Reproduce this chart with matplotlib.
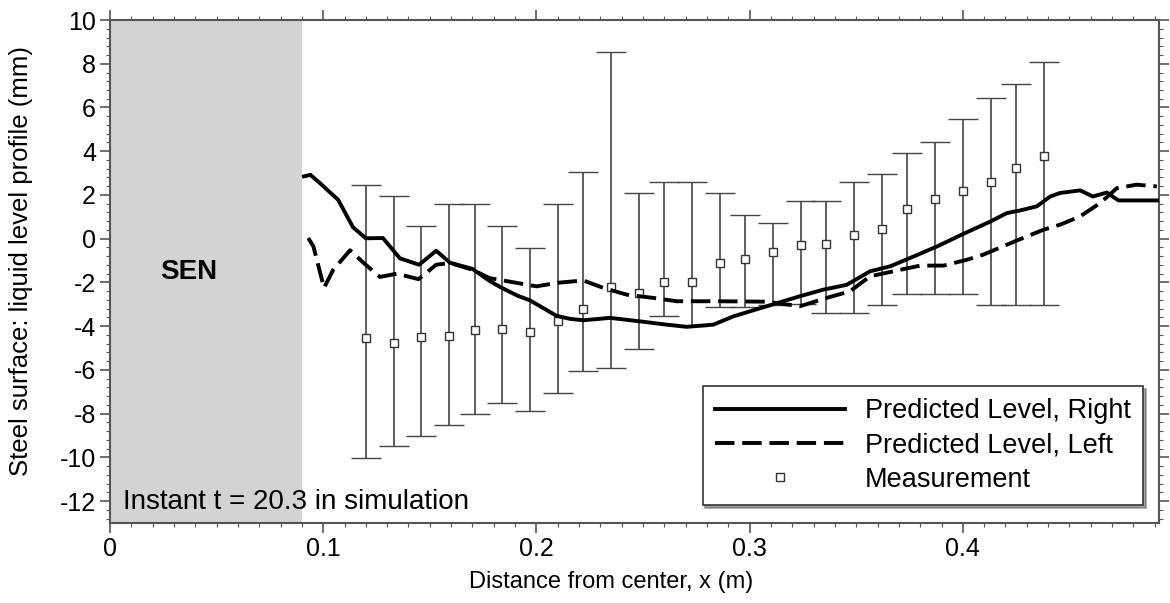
import numpy as np
import matplotlib
matplotlib.use("Agg")
import matplotlib.pyplot as plt
from matplotlib.ticker import MultipleLocator
from matplotlib.lines import Line2D

plt.rcParams["font.family"] = ["Liberation Sans", "DejaVu Sans"]
plt.rcParams["axes.unicode_minus"] = False

# measurement points (mean with asymmetric upper/lower bounds)
meas_x = [0.120, 0.133, 0.146, 0.159, 0.171, 0.184, 0.197, 0.210, 0.222,
          0.235, 0.248, 0.260, 0.273, 0.286, 0.298, 0.311, 0.324, 0.336,
          0.349, 0.362, 0.374, 0.387, 0.400, 0.413, 0.425, 0.438]
meas_y = [-4.53, -4.76, -4.49, -4.43, -4.16, -4.11, -4.26, -3.78, -3.21,
          -2.20, -2.48, -1.96, -1.99, -1.11, -0.93, -0.61, -0.29, -0.24,
          0.17, 0.44, 1.38, 1.83, 2.16, 2.57, 3.23, 3.79]
meas_top = [2.47, 1.93, 0.56, 1.60, 1.60, 0.56, -0.43, 1.60, 3.06,
            8.55, 2.09, 2.59, 2.59, 2.09, 1.08, 0.72, 1.72, 1.72,
            2.57, 2.97, 3.93, 4.44, 5.47, 6.42, 7.06, 8.07]
meas_bot = [-10.03, -9.50, -9.00, -8.53, -8.00, -7.52, -7.90, -7.05, -6.03,
            -5.89, -5.04, -3.55, -4.00, -3.12, -3.12, -3.04, -3.00, -3.39,
            -3.39, -3.01, -2.53, -2.53, -2.53, -3.01, -3.01, -3.01]

# predicted level, right side (solid)
right_x = [0.091, 0.094, 0.0985, 0.107, 0.114, 0.120, 0.128, 0.136, 0.145,
           0.153, 0.1595, 0.170, 0.178, 0.183, 0.191, 0.197, 0.2095, 0.216,
           0.222, 0.2345, 0.2486, 0.261, 0.2705, 0.283, 0.2924, 0.308,
           0.3236, 0.3346, 0.3455, 0.3565, 0.366, 0.377, 0.388, 0.400,
           0.413, 0.4206, 0.4268, 0.4347, 0.441, 0.4456, 0.455, 0.461,
           0.4675, 0.473, 0.491]
right_y = [2.85, 2.92, 2.54, 1.78, 0.52, 0.02, 0.03, -0.90, -1.19,
           -0.55, -1.10, -1.38, -1.93, -2.21, -2.60, -2.82, -3.53, -3.67,
           -3.73, -3.62, -3.78, -3.93, -4.03, -3.93, -3.55, -3.09,
           -2.63, -2.33, -2.11, -1.49, -1.26, -0.81, -0.35, 0.21,
           0.79, 1.17, 1.29, 1.48, 1.93, 2.09, 2.21, 1.93,
           2.11, 1.75, 1.75]

# predicted level, left side (dashed)
left_x = [0.093, 0.0954, 0.1004, 0.1047, 0.1126, 0.119, 0.1266, 0.1345,
          0.1447, 0.153, 0.1595, 0.170, 0.178, 0.189, 0.200, 0.2095,
          0.222, 0.2314, 0.2424, 0.255, 0.2658, 0.2846, 0.308, 0.3236,
          0.336, 0.347, 0.3565, 0.3674, 0.380, 0.391, 0.402, 0.4096,
          0.4254, 0.4378, 0.4456, 0.455, 0.4644, 0.4722, 0.4815, 0.491]
left_y = [0.03, -0.35, -2.25, -1.42, -0.53, -1.11, -1.75, -1.60,
          -1.85, -1.19, -1.11, -1.42, -1.80, -1.99, -2.18, -2.02,
          -1.91, -2.25, -2.56, -2.71, -2.86, -2.86, -2.88, -3.09,
          -2.71, -2.41, -1.72, -1.49, -1.23, -1.23, -0.96, -0.73,
          -0.08, 0.41, 0.64, 1.02, 1.63, 2.31, 2.47, 2.39]

fig = plt.figure(figsize=(11.7, 6.03), dpi=100)
ax = fig.add_axes([0.094, 0.1327, 0.8966, 0.8341])

ax.axvspan(0, 0.09, color="#d3d3d3", lw=0, zorder=0)

my = np.array(meas_y)
yerr = [my - np.array(meas_bot), np.array(meas_top) - my]
ax.errorbar(meas_x, meas_y, yerr=yerr, fmt="s", ms=6, mfc="white",
            mec="#333333", mew=1.0, ecolor="#444444", elinewidth=1.2,
            capsize=11, capthick=1.5, zorder=3)
ax.plot(right_x, right_y, color="black", lw=2.8, zorder=4)
ax.plot(left_x, left_y, color="black", lw=2.8, ls=(0, (5, 2)), zorder=4)

ax.set_xlim(0, 0.492)
ax.set_ylim(-13, 10)
ax.xaxis.set_major_locator(MultipleLocator(0.1))
ax.xaxis.set_minor_locator(MultipleLocator(0.01))
ax.yaxis.set_major_locator(MultipleLocator(2))
ax.yaxis.set_minor_locator(MultipleLocator(0.4))
ax.set_xticks([0, 0.1, 0.2, 0.3, 0.4])
ax.set_xticklabels(["0", "0.1", "0.2", "0.3", "0.4"])
ax.tick_params(which="both", direction="out", top=True, right=True,
               color="#555555", labelsize=18, pad=3)
ax.tick_params(which="major", length=7, width=1.2)
ax.tick_params(which="minor", length=3, width=0.8)
for s in ax.spines.values():
    s.set_color("#555555")
    s.set_linewidth(1.5)

ax.set_xlabel("Distance from center, x (m)", fontsize=17, labelpad=6)
ax.xaxis.set_label_coords(0.478, -0.095)
ax.set_ylabel("Steel surface: liquid level profile (mm)", fontsize=18.5,
              labelpad=4)
ax.yaxis.set_label_coords(-0.073, 0.52)

ax.text(0.037, -1.5, "SEN", fontsize=20, fontweight="bold",
        ha="center", va="center")
ax.text(0.006, -12.05, "Instant t = 20.3 in simulation", fontsize=20,
        ha="left", va="center")

handles = [Line2D([], [], color="black", lw=2.8),
           Line2D([], [], color="black", lw=2.8, ls=(0, (5, 2))),
           Line2D([], [], ls="none", marker="s", ms=6, mfc="white",
                  mec="#333333", mew=1.0)]
labels = ["Predicted Level, Right", "Predicted Level, Left", "Measurement"]
leg = ax.legend(handles, labels, loc="lower right",
                bbox_to_anchor=(0.985, 0.036),
                fontsize=19.5, frameon=True, fancybox=False, shadow=True,
                handlelength=4.8, borderpad=0.45, labelspacing=0.3,
                handletextpad=0.75, borderaxespad=0, edgecolor="#333333")
leg.get_frame().set_linewidth(1.2)

fig.savefig("out.png", dpi=100)
